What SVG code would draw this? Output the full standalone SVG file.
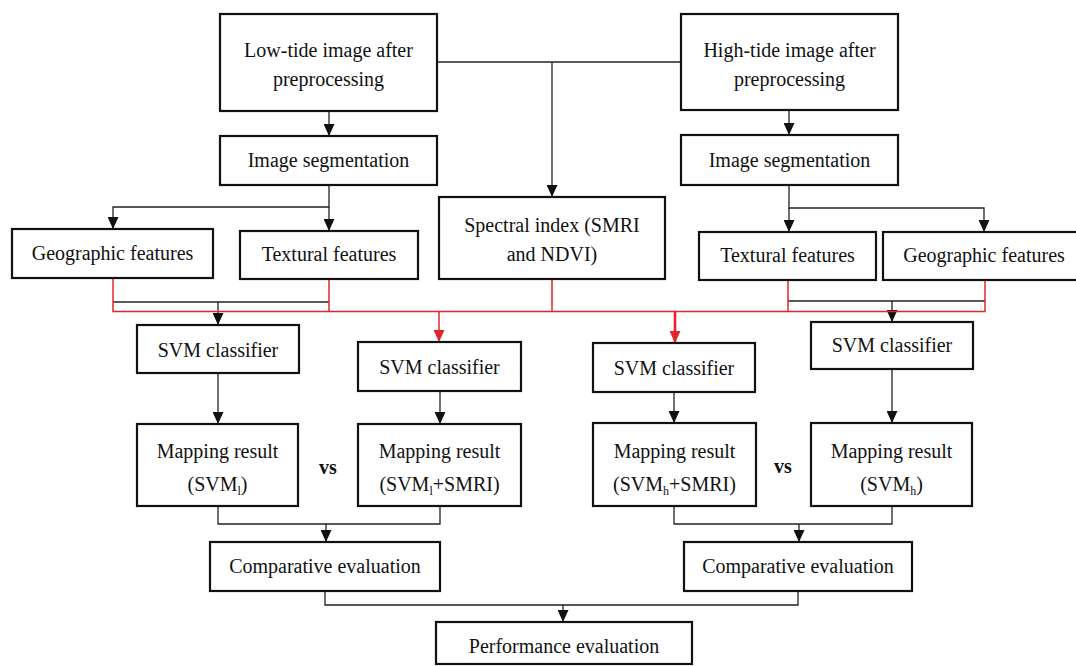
<svg xmlns="http://www.w3.org/2000/svg" width="1076" height="666" viewBox="0 0 1076 666">
<style>
.box{fill:#fff;stroke:#111;stroke-width:2.2}
.t{font-family:"Liberation Serif","Times New Roman",serif;font-size:20px;fill:#111;text-anchor:middle}
.vs{font-family:"Liberation Serif","Times New Roman",serif;font-size:20px;font-weight:bold;fill:#111;text-anchor:middle}
.sub{font-size:12px}
.k{fill:none;stroke:#222;stroke-width:1.3}
.r{fill:none;stroke:#e3242b;stroke-width:1.5}
.rt{fill:none;stroke:#e3242b;stroke-width:2.6}
</style>
<defs>
<marker id="ak" markerUnits="userSpaceOnUse" markerWidth="12" markerHeight="11" refX="12" refY="5.5" orient="auto" viewBox="0 0 12 11">
<path d="M0,0 L12,5.5 L0,11 z" fill="#111"/>
</marker>
<marker id="ar" markerUnits="userSpaceOnUse" markerWidth="12" markerHeight="11" refX="12" refY="5.5" orient="auto" viewBox="0 0 12 11">
<path d="M0,0 L12,5.5 L0,11 z" fill="#e3242b"/>
</marker>
</defs>
<rect width="1076" height="666" fill="#fff"/>

<g id="connectors">
<!-- top -->
<path class="k" d="M437,62 H681"/>
<path class="k" d="M552,62 V197" marker-end="url(#ak)"/>
<path class="k" d="M329,111 V136" marker-end="url(#ak)"/>
<path class="k" d="M789,110 V135" marker-end="url(#ak)"/>
<!-- segmentation branches -->
<path class="k" d="M329,185 V207 H113 V229" marker-end="url(#ak)"/>
<path class="k" d="M329,207 V231" marker-end="url(#ak)"/>
<path class="k" d="M789,185 V208 H984 V232" marker-end="url(#ak)"/>
<path class="k" d="M789,208 V232" marker-end="url(#ak)"/>
<!-- black merges to SVM1 and SVM4 -->
<path class="k" d="M113,302 H329"/>
<path class="k" d="M218,302 V325" marker-end="url(#ak)"/>
<path class="k" d="M788,301 H985"/>
<path class="k" d="M892,301 V322" marker-end="url(#ak)"/>
<!-- red merges -->
<path class="r" d="M113,278 V311.5 H985 V280"/>
<path class="r" d="M329,279 V311.5"/>
<path class="r" d="M552,279 V311.5"/>
<path class="r" d="M788,280 V311.5"/>
<path class="r" d="M439,311.5 V342" marker-end="url(#ar)"/>
<path class="rt" d="M675,311.5 V343" marker-end="url(#ar)"/>
<!-- SVM to mapping -->
<path class="k" d="M218,373 V424" marker-end="url(#ak)"/>
<path class="k" d="M440,391 V424" marker-end="url(#ak)"/>
<path class="k" d="M674,392 V423" marker-end="url(#ak)"/>
<path class="k" d="M892,369 V423" marker-end="url(#ak)"/>
<!-- mapping to comparative -->
<path class="k" d="M218,506 V524 H440 V506"/>
<path class="k" d="M326,524 V542" marker-end="url(#ak)"/>
<path class="k" d="M674,506 V524 H892 V506"/>
<path class="k" d="M799,524 V542" marker-end="url(#ak)"/>
<!-- comparative to performance -->
<path class="k" d="M325,591 V605 H798 V591"/>
<path class="k" d="M563,605 V622" marker-end="url(#ak)"/>
</g>

<g id="low-tide">
<rect class="box" x="220" y="14" width="217" height="97"/>
<text class="t" x="328.5" y="57">Low-tide image after</text>
<text class="t" x="328.5" y="86">preprocessing</text>
</g>
<g id="high-tide">
<rect class="box" x="681" y="14" width="217" height="96"/>
<text class="t" x="789.5" y="57">High-tide image after</text>
<text class="t" x="789.5" y="86">preprocessing</text>
</g>
<g id="seg-left">
<rect class="box" x="220" y="136" width="217" height="49"/>
<text class="t" x="328.5" y="167">Image segmentation</text>
</g>
<g id="seg-right">
<rect class="box" x="681" y="135" width="217" height="50"/>
<text class="t" x="789.5" y="167">Image segmentation</text>
</g>
<g id="spectral">
<rect class="box" x="439" y="197" width="226" height="82"/>
<text class="t" x="552" y="232">Spectral index (SMRI</text>
<text class="t" x="552" y="261">and NDVI)</text>
</g>
<g id="geo-left">
<rect class="box" x="12" y="229" width="201" height="49"/>
<text class="t" x="112.5" y="260">Geographic features</text>
</g>
<g id="tex-left">
<rect class="box" x="240" y="231" width="178" height="48"/>
<text class="t" x="329" y="261">Textural features</text>
</g>
<g id="tex-right">
<rect class="box" x="699" y="232" width="177" height="48"/>
<text class="t" x="787.5" y="262">Textural features</text>
</g>
<g id="geo-right">
<rect class="box" x="883" y="232" width="205" height="48"/>
<text class="t" x="984" y="262">Geographic features</text>
</g>
<g id="svm1">
<rect class="box" x="137" y="325" width="162" height="48"/>
<text class="t" x="218" y="357">SVM classifier</text>
</g>
<g id="svm2">
<rect class="box" x="358" y="342" width="163" height="49"/>
<text class="t" x="439.5" y="374">SVM classifier</text>
</g>
<g id="svm3">
<rect class="box" x="593" y="343" width="162" height="49"/>
<text class="t" x="674" y="375">SVM classifier</text>
</g>
<g id="svm4">
<rect class="box" x="811" y="322" width="162" height="47"/>
<text class="t" x="892" y="352">SVM classifier</text>
</g>
<g id="map1">
<rect class="box" x="137" y="424" width="161" height="82"/>
<text class="t" x="217.5" y="458">Mapping result</text>
<text class="t" x="217.5" y="491">(SVM<tspan class="sub" dy="4">l</tspan><tspan dy="-4">)</tspan></text>
</g>
<g id="map2">
<rect class="box" x="358" y="424" width="163" height="82"/>
<text class="t" x="439.5" y="458">Mapping result</text>
<text class="t" x="439.5" y="491">(SVM<tspan class="sub" dy="4">l</tspan><tspan dy="-4">+SMRI)</tspan></text>
</g>
<g id="map3">
<rect class="box" x="593" y="423" width="163" height="83"/>
<text class="t" x="674.5" y="458">Mapping result</text>
<text class="t" x="674.5" y="491">(SVM<tspan class="sub" dy="4">h</tspan><tspan dy="-4">+SMRI)</tspan></text>
</g>
<g id="map4">
<rect class="box" x="811" y="423" width="161" height="83"/>
<text class="t" x="891.5" y="458">Mapping result</text>
<text class="t" x="891.5" y="491">(SVM<tspan class="sub" dy="4">h</tspan><tspan dy="-4">)</tspan></text>
</g>
<g id="vs-left"><text class="vs" x="328" y="474">vs</text></g>
<g id="vs-right"><text class="vs" x="783" y="473">vs</text></g>
<g id="comp-left">
<rect class="box" x="210" y="542" width="230" height="49"/>
<text class="t" x="325" y="573">Comparative evaluation</text>
</g>
<g id="comp-right">
<rect class="box" x="684" y="542" width="228" height="49"/>
<text class="t" x="798" y="573">Comparative evaluation</text>
</g>
<g id="performance">
<rect class="box" x="436" y="622" width="256" height="42"/>
<text class="t" x="564" y="653">Performance evaluation</text>
</g>
</svg>
